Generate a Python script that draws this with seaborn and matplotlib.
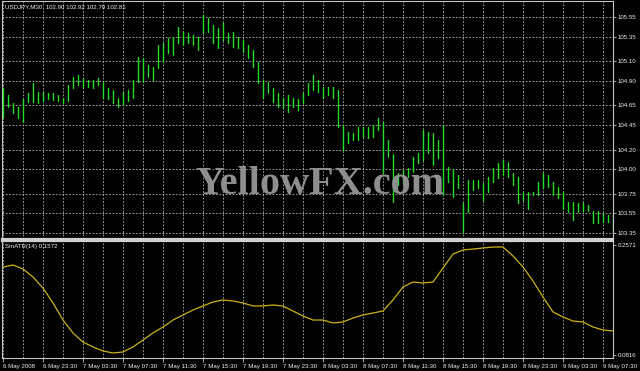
import numpy as np
import pandas as pd
import matplotlib
matplotlib.use("Agg")
import matplotlib.pyplot as plt
import seaborn as sns

# ---------------- data ----------------
symbol_header = "USDJPY,M30  102.90 102.92 102.79 102.81"
indicator_header = "SmATR(14) 0.1572"
watermark = "YellowFX.com"

bar_high = [104.83, 104.76, 104.67, 104.63, 104.72, 104.78, 104.88, 104.79, 104.79, 104.78,
            104.78, 104.76, 104.73, 104.86, 104.94, 104.96, 104.93, 104.91, 104.91, 104.93,
            104.89, 104.83, 104.81, 104.73, 104.79, 104.81, 104.91, 105.14, 105.13, 105.06,
            105.04, 105.27, 105.29, 105.34, 105.35, 105.45, 105.40, 105.39, 105.37, 105.35,
            105.57, 105.54, 105.47, 105.44, 105.49, 105.39, 105.40, 105.35, 105.32, 105.27,
            105.21, 105.09, 104.91, 104.89, 104.83, 104.78, 104.73, 104.76, 104.73, 104.72,
            104.78, 104.88, 104.96, 104.91, 104.84, 104.84, 104.84, 104.81, 104.45, 104.38,
            104.37, 104.43, 104.43, 104.43, 104.45, 104.52, 104.48, 104.30, 104.16, 103.96,
            103.99, 104.01, 104.12, 104.17, 104.40, 104.38, 104.37, 104.30, 104.45, 104.02,
            103.99, 103.94, 103.66, 103.89, 103.89, 103.89, 103.86, 103.92, 104.01, 104.06,
            104.09, 104.07, 103.96, 103.92, 103.77, 103.77, 103.77, 103.87, 103.96, 103.94,
            103.87, 103.82, 103.77, 103.67, 103.67, 103.66, 103.66, 103.64, 103.58, 103.58,
            103.55, 103.53, 103.53]

bar_low = [104.53, 104.63, 104.57, 104.52, 104.48, 104.68, 104.68, 104.67, 104.70, 104.72,
           104.71, 104.70, 104.67, 104.70, 104.83, 104.86, 104.84, 104.84, 104.83, 104.86,
           104.73, 104.72, 104.67, 104.63, 104.65, 104.70, 104.73, 104.89, 104.89, 104.94,
           104.91, 105.03, 105.09, 105.18, 105.16, 105.29, 105.27, 105.29, 105.27, 105.21,
           105.39, 105.40, 105.29, 105.23, 105.32, 105.29, 105.24, 105.23, 105.19, 105.13,
           105.04, 104.88, 104.73, 104.78, 104.68, 104.63, 104.62, 104.58, 104.63, 104.60,
           104.67, 104.76, 104.81, 104.79, 104.73, 104.76, 104.73, 104.43, 104.20, 104.27,
           104.30, 104.30, 104.33, 104.32, 104.33, 104.40, 103.96, 104.12, 103.67, 103.84,
           103.86, 103.92, 103.97, 104.06, 104.09, 104.17, 104.04, 104.11, 103.74, 103.87,
           103.72, 103.81, 103.36, 103.56, 103.79, 103.81, 103.69, 103.77, 103.87, 103.91,
           103.94, 103.92, 103.84, 103.66, 103.69, 103.60, 103.74, 103.74, 103.81, 103.82,
           103.74, 103.71, 103.60, 103.56, 103.48, 103.56, 103.58, 103.58, 103.45, 103.45,
           103.46, 103.46, 103.38]

# SmATR(14), one reading every second bar
atr_values = [0.2220, 0.2252, 0.2188, 0.2060, 0.1885, 0.1646, 0.1374, 0.1167, 0.1023, 0.0944,
              0.0880, 0.0848, 0.0864, 0.0944, 0.1055, 0.1167, 0.1263, 0.1374, 0.1454, 0.1534,
              0.1598, 0.1662, 0.1694, 0.1678, 0.1646, 0.1598, 0.1598, 0.1614, 0.1598, 0.1518,
              0.1438, 0.1374, 0.1374, 0.1327, 0.1343, 0.1406, 0.1454, 0.1486, 0.1518, 0.1694,
              0.1901, 0.1981, 0.1965, 0.1981, 0.2204, 0.2427, 0.2491, 0.2507, 0.2523, 0.2539,
              0.2539, 0.2396, 0.2220, 0.1997, 0.1741, 0.1502, 0.1422, 0.1358, 0.1343, 0.1263,
              0.1215, 0.1199]

price_ticks = [105.55, 105.35, 105.10, 104.90, 104.65, 104.45, 104.20, 104.00, 103.75, 103.55, 103.35]
atr_ticks = [0.2571, 0.0816]
time_labels = ["6 May 2008", "6 May 23:30", "7 May 03:30", "7 May 07:30", "7 May 11:30",
               "7 May 15:30", "7 May 19:30", "7 May 23:30", "8 May 03:30", "8 May 07:30",
               "8 May 11:30", "8 May 15:30", "8 May 19:30", "8 May 23:30", "9 May 03:30",
               "9 May 07:30"]

# ---------------- style ----------------
sns.set_theme(style="dark", rc={"axes.facecolor": "black", "figure.facecolor": "black",
                                "savefig.facecolor": "black"})
SMALL = ["Liberation Sans", "DejaVu Sans"]
plt.rcParams["font.family"] = SMALL

BAR_COLOR = "#22dd22"
ATR_COLOR = "#cdb21a"
GRID_COLOR = "#b8b8b8"
FRAME_COLOR = "#c4c4c4"
TEXT_COLOR = "#f0f0f0"
FS = 4.4

W, H = 640, 371
fig = plt.figure(figsize=(W / 100, H / 100), dpi=100)


def rect(x0, y0, x1, y1):
    return [x0 / W, 1 - y1 / H, (x1 - x0) / W, (y1 - y0) / H]


ax = fig.add_axes(rect(2, 1, 613, 239))
ax2 = fig.add_axes(rect(2, 241, 613, 358), sharex=ax)

n = len(bar_high)
bars = pd.DataFrame({
    "bar": np.repeat(np.arange(n), 2),
    "price": np.column_stack([bar_low, bar_high]).ravel(),
})
sns.lineplot(data=bars, x="bar", y="price", units="bar", estimator=None, sort=False,
             color=BAR_COLOR, linewidth=1.0, ax=ax, zorder=3)

atr = pd.DataFrame({"bar": np.arange(len(atr_values)) * 2, "atr": atr_values})
sns.lineplot(data=atr, x="bar", y="atr", color=ATR_COLOR, linewidth=0.9, ax=ax2, zorder=3)

ax.set_xlim(-0.2, n - 1)
ax.set_ylim(103.29, 105.713)
ax2.set_ylim(0.0768, 0.2635)

major = np.arange(0, n, 8)
minor = np.arange(4, n, 8)
for a in (ax, ax2):
    a.set_facecolor("black")
    a.set_xlabel("")
    a.set_ylabel("")
    a.set_xticks(major)
    a.set_xticks(minor, minor=True)
    a.grid(True, which="both", axis="x", color=GRID_COLOR, linestyle=(0, (2, 2)), linewidth=0.6)
    a.yaxis.tick_right()
    for s in a.spines.values():
        s.set_color(FRAME_COLOR)
        s.set_linewidth(0.8)
        s.set_visible(True)

ax.set_yticks(price_ticks)
ax.set_yticklabels([f"{v:.2f}" for v in price_ticks])
ax.grid(True, which="major", axis="y", color=GRID_COLOR, linestyle=(0, (2, 2)), linewidth=0.6)
ax.tick_params(axis="x", which="both", length=0, labelbottom=False)
ax.spines["bottom"].set_linewidth(1.6)
ax.spines["bottom"].set_color("#cfcfcf")

ax2.set_yticks(atr_ticks)
ax2.set_yticklabels([f"{v:.4f}" for v in atr_ticks])
ax2.grid(False, axis="y")
ax2.set_xticklabels(time_labels, ha="left")
ax2.tick_params(axis="x", which="major", length=3, width=0.6, color=FRAME_COLOR,
                labelcolor=TEXT_COLOR, labelsize=FS, pad=1.2, bottom=True)
ax2.tick_params(axis="x", which="minor", length=0)
ax2.spines["top"].set_linewidth(1.6)
ax2.spines["top"].set_color("#cfcfcf")

for a in (ax, ax2):
    a.tick_params(axis="y", which="major", length=2, width=0.6, color=FRAME_COLOR,
                  labelcolor=TEXT_COLOR, labelsize=FS, pad=1.5, right=True, left=False)

fig.text(5 / W, 1 - 6.5 / H, symbol_header, color=TEXT_COLOR, fontsize=FS,
         ha="left", va="center")
fig.text(5 / W, 1 - 246.5 / H, indicator_header, color=TEXT_COLOR, fontsize=FS,
         ha="left", va="center")
fig.text(320 / W, 1 - 184 / H, watermark, color="#8e8e8e", fontsize=29,
         fontweight="bold", family=["Liberation Serif", "DejaVu Serif"],
         ha="center", va="center", zorder=10)

fig.savefig("out.png", dpi=100, facecolor="black")
